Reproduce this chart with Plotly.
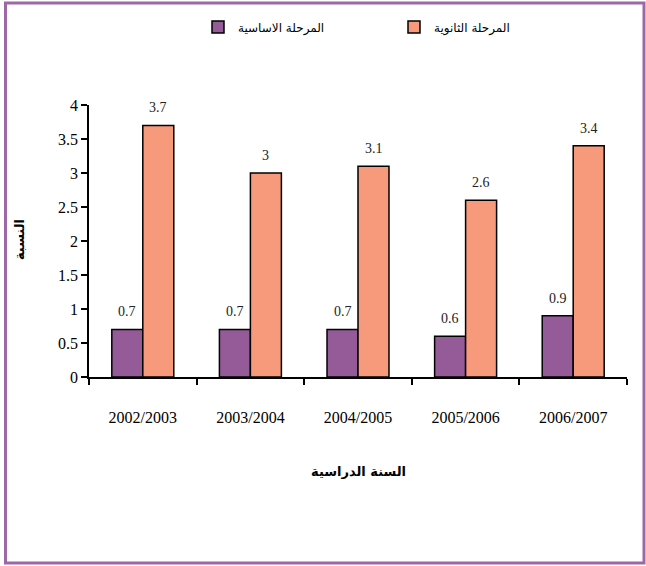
import plotly.graph_objects as go

years = ["2002/2003", "2003/2004", "2004/2005", "2005/2006", "2006/2007"]
basic = [0.7, 0.7, 0.7, 0.6, 0.9]
secondary = [3.7, 3.0, 3.1, 2.6, 3.4]
basic_name = "المرحلة الاساسية"
secondary_name = "المرحلة الثانوية"
y_title = "النسبة"
x_title = "السنة الدراسية"

purple = "#955A98"
orange = "#F7997B"
serif = "Liberation Serif, Times New Roman, serif"
arabic = "DejaVu Sans, Arial, sans-serif"

fig = go.Figure()
fig.add_trace(go.Bar(x=years, y=basic, name=basic_name,
                     marker=dict(color=purple, line=dict(color="black", width=1.5))))
fig.add_trace(go.Bar(x=years, y=secondary, name=secondary_name,
                     marker=dict(color=orange, line=dict(color="black", width=1.5))))

# data labels
for vals, shift in ((basic, -15.5), (secondary, 15.5)):
    for x, v in zip(years, vals):
        fig.add_annotation(x=x, y=v, text=f"{v:g}", xshift=shift, yshift=8,
                           yanchor="bottom", showarrow=False,
                           font=dict(family=serif, size=14, color="#222"))

fig.add_annotation(x=-0.128, y=0.504, xref="paper", yref="paper", text=f"<b>{y_title}</b>",
                   textangle=-90, showarrow=False, xanchor="center", yanchor="middle",
                   font=dict(family=arabic, size=13, color="black"))
fig.add_annotation(x=0.5, y=-0.349, xref="paper", yref="paper", text=f"<b>{x_title}</b>",
                   showarrow=False, xanchor="center", yanchor="middle",
                   font=dict(family=arabic, size=13, color="black"))

# outer frame
fig.add_shape(type="rect", xref="paper", yref="paper",
              x0=-0.1552, x1=1.0316, y0=-0.684, y1=1.375,
              line=dict(color="#9D68A8", width=3), layer="below")

fig.update_layout(
    width=646, height=566,
    margin=dict(l=89, r=19, t=105, b=189),
    plot_bgcolor="white", paper_bgcolor="white",
    barmode="group", bargap=0.424, bargroupgap=0,
    showlegend=True,
    legend=dict(orientation="h", x=0.2026, xanchor="left", y=1.287, yanchor="middle",
                font=dict(family=arabic, size=12, color="black"), itemwidth=30,
                entrywidth=151, entrywidthmode="pixels",
                traceorder="normal"),
    xaxis=dict(showline=True, linecolor="black", linewidth=1.5, ticks="outside",
               tickson="boundaries", ticklen=6, tickwidth=1.5, tickcolor="black",
               ticklabelstandoff=25,
               tickfont=dict(family=serif, size=16, color="black"), showgrid=False),
    yaxis=dict(range=[0, 4], dtick=0.5, showline=True, linecolor="black", linewidth=1.5,
               ticks="outside", ticklen=6, tickwidth=1.5, tickcolor="black",
               tickfont=dict(family=serif, size=16, color="black"), showgrid=False,
               zeroline=False),
)

fig.write_html("out.html", config={"displayModeBar": False},
               post_script="document.body.style.margin='0';document.body.style.overflow='hidden';")
